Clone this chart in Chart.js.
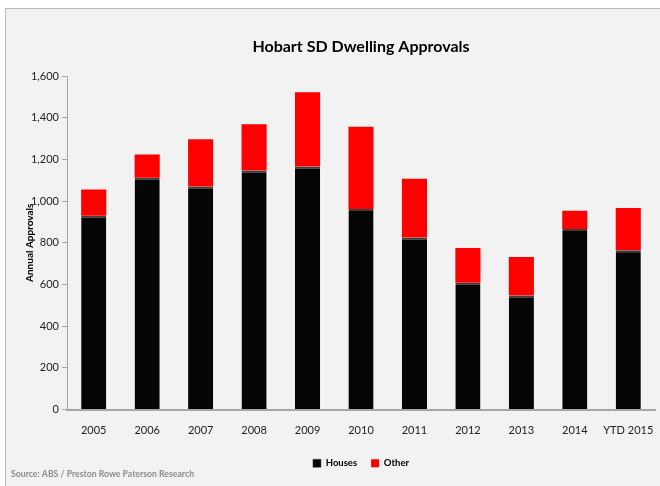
<!DOCTYPE html>
<html>
<head>
<meta charset="utf-8">
<script src="https://cdn.jsdelivr.net/npm/chart.js"></script>
<style>
  body { margin: 0; background: #ffffff; }
  #wrap { position: relative; width: 660px; height: 486px; }
</style>
</head>
<body>
<div id="wrap"><canvas id="myChart" width="660" height="486"></canvas></div>
<script>
// Chart data
const years = ['2005', '2006', '2007', '2008', '2009', '2010', '2011', '2012', '2013', '2014', 'YTD 2015'];
const houses = [930, 1112, 1070, 1147, 1166, 962, 825, 608, 547, 866, 764];
const other = [125, 111, 226, 222, 356, 394, 282, 167, 185, 88, 203];
const yTicks = [0, 200, 400, 600, 800, 1000, 1200, 1400, 1600];

const FONT = 'Lato, "DejaVu Sans", sans-serif';

// Frame, grey background, title and source note
const decorations = {
    id: 'decorations',
    beforeDraw(chart) {
        const ctx = chart.ctx;
        ctx.save();
        ctx.fillStyle = '#ffffff';
        ctx.fillRect(0, 0, chart.width, chart.height);
        ctx.fillStyle = '#f2f2f2';
        ctx.fillRect(5, 8, chart.width - 5, chart.height - 8);
        ctx.strokeStyle = '#b8b8b8';
        ctx.lineWidth = 1;
        ctx.beginPath();
        ctx.moveTo(5.5, chart.height);
        ctx.lineTo(5.5, 8.5);
        ctx.lineTo(chart.width, 8.5);
        ctx.stroke();
        ctx.restore();
    },
    afterDraw(chart) {
        const ctx = chart.ctx;
        const area = chart.chartArea;
        ctx.save();
        ctx.fillStyle = '#000000';
        ctx.font = 'bold 16px ' + FONT;
        ctx.textAlign = 'center';
        ctx.textBaseline = 'middle';
        ctx.fillText('Hobart SD Dwelling Approvals', (area.left + area.right) / 2, 47);
        ctx.fillStyle = '#8c8c8c';
        ctx.font = 'bold 8.7px ' + FONT;
        ctx.textAlign = 'left';
        ctx.fillText('Source: ABS / Preston Rowe Paterson Research', 11, 474);
        ctx.restore();
    }
};

const ctx = document.getElementById('myChart').getContext('2d');
new Chart(ctx, {
    type: 'bar',
    data: {
        labels: years,
        datasets: [{
            label: 'Houses',
            data: houses,
            backgroundColor: '#050505',
            borderColor: '#3c3c3c',
            borderWidth: { top: 2, left: 0, right: 0, bottom: 0 },
            borderSkipped: false
        }, {
            label: 'Other',
            data: other,
            backgroundColor: '#ff0000',
            borderWidth: 0
        }]
    },
    options: {
        responsive: false,
        animation: false,
        layout: { padding: { top: 76, right: 5, bottom: 8, left: 0 } },
        datasets: {
            bar: { categoryPercentage: 1, barPercentage: 0.47 }
        },
        plugins: {
            legend: {
                position: 'bottom',
                fullSize: false,
                labels: {
                    boxWidth: 8,
                    boxHeight: 8,
                    padding: 14,
                    color: '#000000',
                    font: { family: FONT, size: 9.5, weight: 'bold' }
                }
            },
            tooltip: { enabled: false }
        },
        scales: {
            x: {
                stacked: true,
                grid: { display: false },
                border: { display: true, color: '#a6a6a6', width: 2 },
                ticks: {
                    color: '#222222',
                    padding: 6,
                    font: { family: FONT, size: 11 },
                    maxRotation: 0
                },
                afterFit(scale) { scale.height = 35; }
            },
            y: {
                stacked: true,
                min: 0,
                max: 1600,
                afterBuildTicks(scale) { scale.ticks = yTicks.map(v => ({ value: v })); },
                grid: { drawOnChartArea: false, tickLength: 5, color: '#a6a6a6' },
                border: { display: true, color: '#a6a6a6' },
                ticks: {
                    color: '#222222',
                    padding: 3,
                    font: { family: FONT, size: 11 },
                    callback: v => v.toLocaleString('en-US')
                },
                title: {
                    display: true,
                    text: 'Annual Approvals',
                    color: '#000000',
                    font: { family: FONT, size: 10, weight: 'bold' },
                    padding: { top: 24, bottom: 0 }
                },
                afterFit(scale) { scale.width = 67; }
            }
        }
    },
    plugins: [decorations]
});
</script>
</body>
</html>
